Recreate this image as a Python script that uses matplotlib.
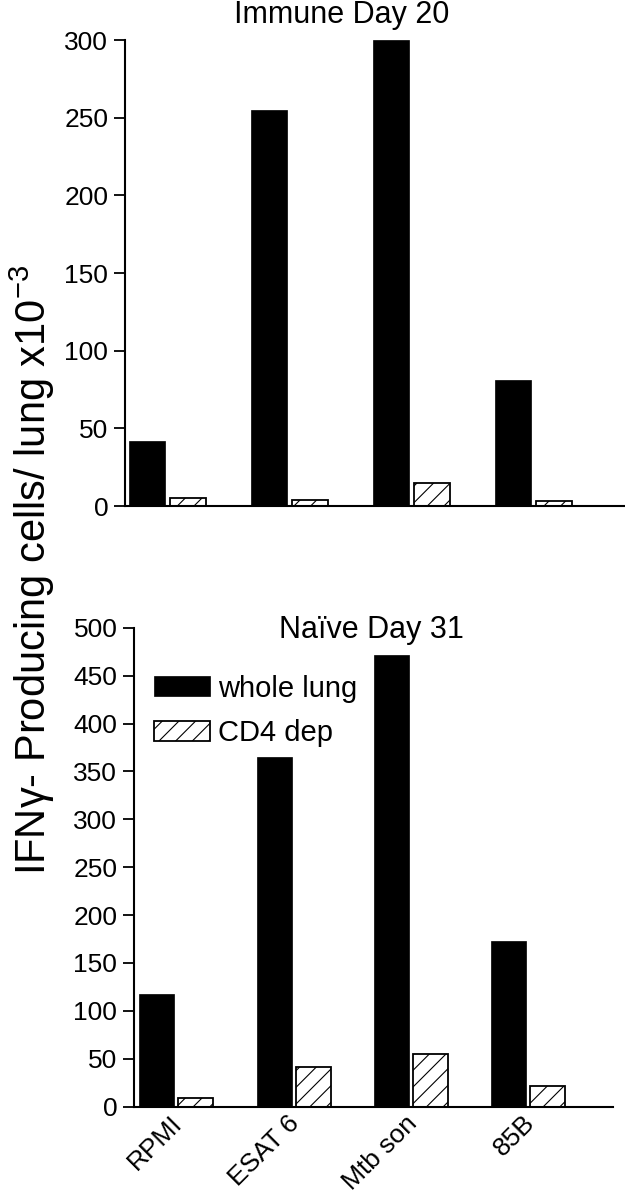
import numpy as np
import matplotlib
matplotlib.use("Agg")
import matplotlib.pyplot as plt
from matplotlib.transforms import ScaledTranslation

plt.rcParams["font.family"] = ["Liberation Sans", "DejaVu Sans"]
plt.rcParams["mathtext.fontset"] = "custom"
plt.rcParams["mathtext.rm"] = "Liberation Sans"
plt.rcParams["mathtext.it"] = "Liberation Sans"
plt.rcParams["hatch.linewidth"] = 0.8

# ── data ─────────────────────────────────────────────────────────────────────
categories = ["RPMI", "ESAT 6", "Mtb son", "85B"]
immune_whole = [42, 255, 300, 81]
immune_cd4 = [5, 4, 14.5, 3]
naive_whole = [118, 365, 471, 173]
naive_cd4 = [9, 41, 55, 22]

W, H = 625, 1199
fig = plt.figure(figsize=(W / 100, H / 100), dpi=100)
ax1 = fig.add_axes([125 / W, 1 - 506 / H, 500 / W, 466 / H])
ax2 = fig.add_axes([134 / W, 1 - 1106.7 / H, 479 / W, 479 / H])

x = np.arange(len(categories))


def draw(ax, whole, cd4, off, width, ymax, step, xlim):
    ax.bar(x - off, whole, width, color="black", edgecolor="black",
           linewidth=0.5, label="whole lung")
    ax.bar(x + off, cd4, width, color="white", edgecolor="black",
           linewidth=1.3, hatch="//", label="CD4 dep")
    ax.set_xlim(*xlim)
    ax.set_ylim(0, ymax)
    ax.set_yticks(np.arange(0, ymax + 1, step))
    for s in ("top", "right"):
        ax.spines[s].set_visible(False)
    for s in ("left", "bottom"):
        ax.spines[s].set_linewidth(1.5)
    ax.tick_params(axis="y", direction="out", length=8, width=1.3,
                   labelsize=19, pad=4)
    ax.tick_params(axis="x", length=0)


draw(ax1, immune_whole, immune_cd4, 0.168, 0.30, 300, 50, (-0.348, 3.75))
draw(ax2, naive_whole, naive_cd4, 0.166, 0.298, 500, 50, (-0.358, 3.72))

ax1.set_xticks([])
ax2.set_xticks(x)
ax2.set_xticklabels(categories, rotation=45, ha="right",
                    rotation_mode="anchor", fontsize=19)
ax2.tick_params(axis="x", pad=3)
shift = ScaledTranslation(-6 / 100, 0, fig.dpi_scale_trans)
for lab in ax2.get_xticklabels():
    lab.set_transform(lab.get_transform() + shift)

fig.text(342 / W, 1 - 23 / H, "Immune Day 20", ha="center",
         va="baseline", fontsize=22)
fig.text(371.5 / W, 1 - 638 / H, "Naïve Day 31", ha="center",
         va="baseline", fontsize=22)

fig.text(32 / W, 1 - 570 / H, "IFNγ- Producing cells/ lung x10$^{-3}$",
         rotation=90, ha="center", va="center", fontsize=30)

ax2.legend(loc="upper left", bbox_to_anchor=(0.042, 0.902), frameon=False,
           fontsize=21, handlelength=1.93, handleheight=0.68,
           handletextpad=0.27, labelspacing=0.57, borderpad=0,
           borderaxespad=0)

fig.savefig("out.png", dpi=100)
